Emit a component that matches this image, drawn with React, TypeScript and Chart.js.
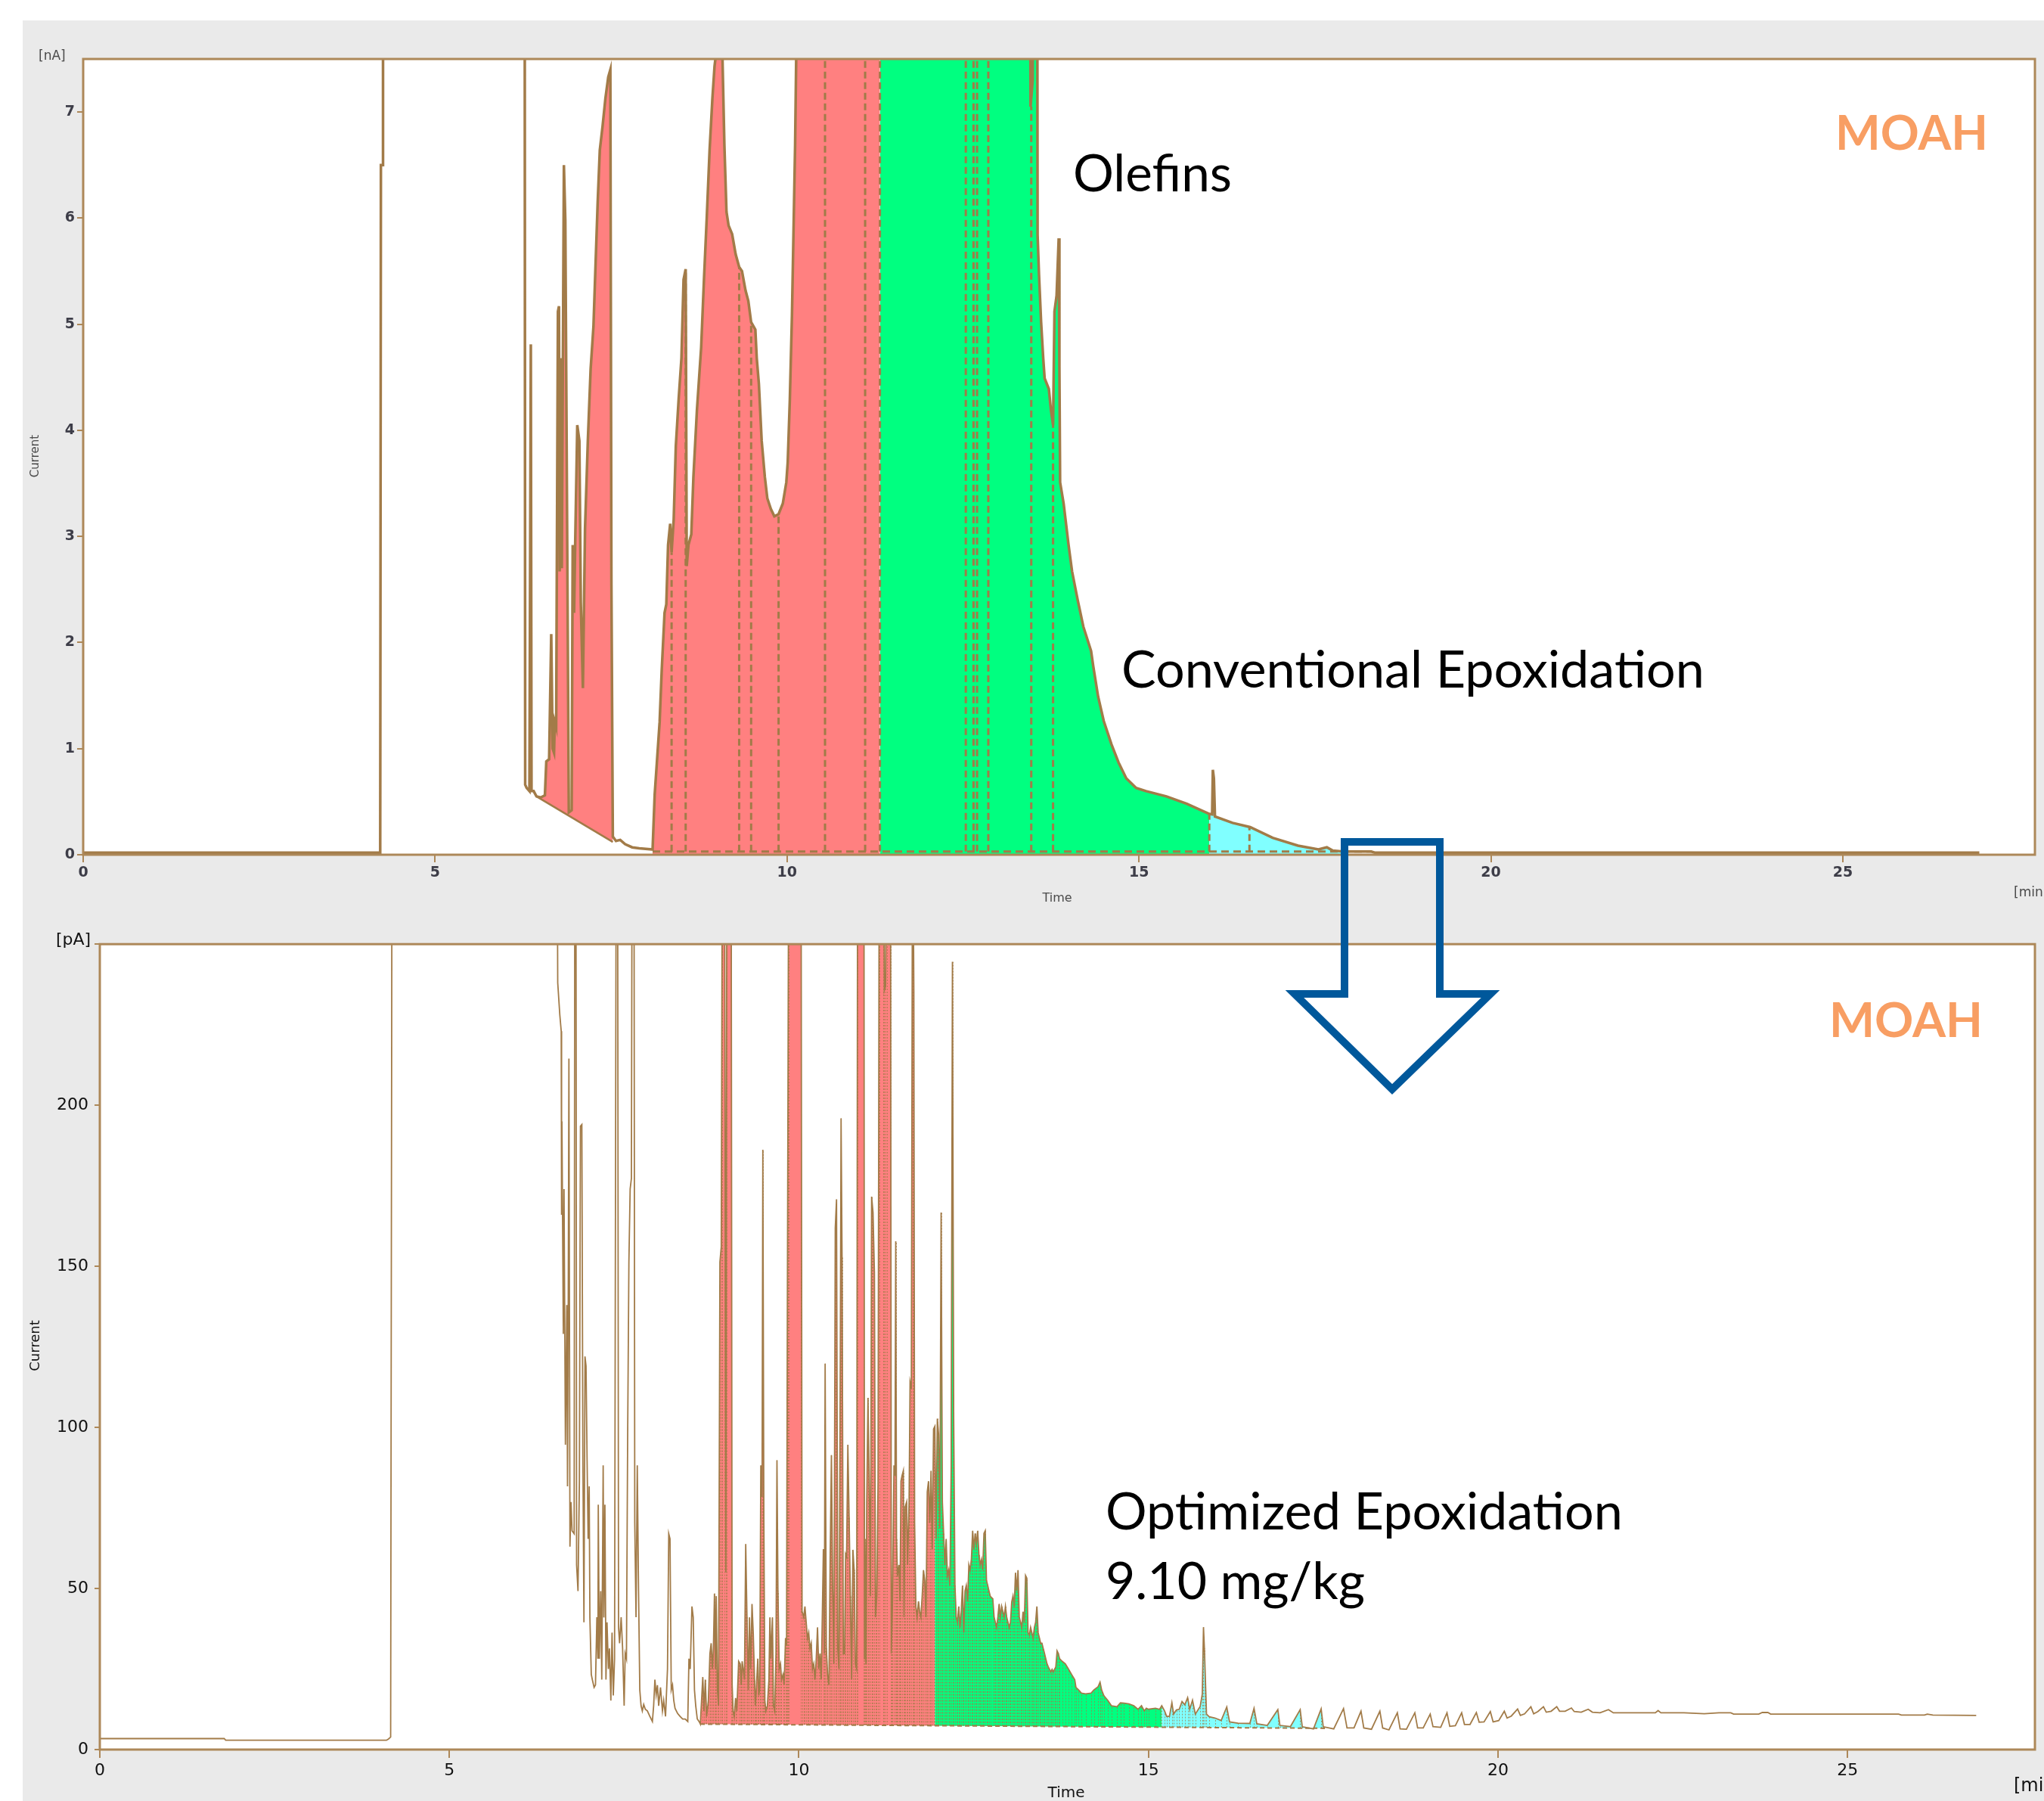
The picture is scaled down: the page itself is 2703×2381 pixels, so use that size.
import { useEffect, useRef } from "react";
import { Chart, registerables } from "chart.js";
Chart.register(...registerables);

// ---------- DATA ----------
// Top chromatogram: conventional epoxidation, [min] vs [nA]
const TOP_TRACE: [number, number][] = [
  [0, 0.02], [4.22, 0.02], [4.23, 6.5], [4.255, 6.5], [4.26, 12], [6.27, 12], [6.28, 0.66], [6.3, 0.63], [6.34, 0.6], [6.36, 4.81],
  [6.37, 0.6], [6.4, 0.6], [6.44, 0.55], [6.5, 0.54], [6.56, 0.56], [6.58, 0.88], [6.62, 0.9], [6.65, 2.08], [6.67, 1.0], [6.69, 0.96],
  [6.7, 1.25], [6.72, 1.2], [6.745, 5.12], [6.76, 5.17], [6.77, 2.67], [6.79, 4.68], [6.8, 2.7], [6.83, 6.5], [6.85, 5.98], [6.9, 0.4],
  [6.94, 0.42], [6.955, 2.92], [6.975, 2.28], [6.99, 2.92], [7.02, 4.05], [7.05, 3.9], [7.07, 2.38], [7.1, 1.57], [7.13, 3.07], [7.17, 3.9],
  [7.21, 4.58], [7.25, 4.98], [7.28, 5.57], [7.31, 6.15], [7.34, 6.64], [7.38, 6.87], [7.42, 7.13], [7.46, 7.33], [7.49, 7.4], [7.505, 2.55],
  [7.525, 0.17], [7.57, 0.13], [7.63, 0.14], [7.7, 0.1], [7.8, 0.07], [7.9, 0.06], [8.09, 0.05], [8.12, 0.57], [8.15, 0.86], [8.19, 1.25],
  [8.22, 1.74], [8.26, 2.28], [8.285, 2.36], [8.31, 2.92], [8.34, 3.12], [8.36, 2.85], [8.39, 3.16], [8.42, 3.85], [8.46, 4.29], [8.5, 4.68],
  [8.53, 5.42], [8.56, 5.52], [8.575, 2.72], [8.6, 2.92], [8.64, 3.02], [8.67, 3.56], [8.72, 4.19], [8.78, 4.78], [8.82, 5.42], [8.86, 6.01],
  [8.9, 6.64], [8.94, 7.13], [8.97, 7.43], [9.0, 7.6], [9.08, 7.6], [9.11, 6.69], [9.14, 6.06], [9.17, 5.93], [9.22, 5.85], [9.27, 5.66],
  [9.32, 5.54], [9.36, 5.5], [9.41, 5.32], [9.45, 5.22], [9.49, 5.02], [9.55, 4.95], [9.57, 4.68], [9.6, 4.44], [9.64, 3.9], [9.685, 3.56],
  [9.72, 3.36], [9.77, 3.26], [9.82, 3.19], [9.88, 3.21], [9.94, 3.31], [9.99, 3.51], [10.01, 3.7], [10.04, 4.29], [10.07, 5.08], [10.1, 6.15],
  [10.115, 6.69], [10.13, 7.49], [10.14, 12], [11.32, 12], [13.44, 12], [13.46, 7.05], [13.49, 7.3], [13.52, 12], [13.55, 12], [13.56, 5.84],
  [13.58, 5.47], [13.61, 5.02], [13.64, 4.68], [13.66, 4.49], [13.72, 4.39], [13.75, 4.19], [13.78, 4.05], [13.8, 5.12], [13.83, 5.27], [13.86, 5.81],
  [13.87, 4.6], [13.88, 3.51], [13.93, 3.31], [14.0, 2.92], [14.05, 2.67], [14.13, 2.4], [14.21, 2.15], [14.32, 1.92], [14.35, 1.78], [14.42, 1.49],
  [14.5, 1.26], [14.61, 1.04], [14.71, 0.87], [14.82, 0.72], [14.96, 0.63], [15.1, 0.6], [15.39, 0.55], [15.68, 0.48], [16.0, 0.385], [16.04, 0.38],
  [16.05, 0.8], [16.065, 0.72], [16.08, 0.36], [16.33, 0.3], [16.58, 0.26], [16.9, 0.16], [17.26, 0.086], [17.55, 0.05], [17.67, 0.07], [17.75, 0.04],
  [17.9, 0.03], [18.3, 0.03], [18.35, 0.02], [26.94, 0.02],
];
const TOP_SLOPED_BASELINE: [number, number][] = [[6.44, 0.55], [7.525, 0.12]];
const TOP_FLAT_BASELINE: [number, number][] = [[8.09, 0.03], [18.3, 0.03]];
const TOP_REGION_FROM = [6.44, 8.09, 11.32, 16.0];
const TOP_REGION_TO = [7.525, 11.32, 16.0, 17.9];
const TOP_REGION_COLORS = ["#ff8080", "#ff8080", "#00ff80", "#80ffff"];
const TOP_PEAK_BOUNDARIES = [8.36, 8.56, 9.32, 9.49, 9.88, 10.54, 11.11, 11.32, 12.54, 12.65, 12.7, 12.86, 13.47, 13.78, 16.0, 16.57];
const TOP_Y_MAX = 7.5;
const TOP_X_MAX = 27.73;

// Bottom chromatogram: optimized epoxidation, [min] vs [pA]
const BOTTOM_PRE: [number, number][] = [
  [0, 3.4], [1.78, 3.4], [1.8, 2.9], [4.1, 2.9], [4.13, 3.3], [4.16, 3.9], [4.18, 300], [6.54, 300], [6.55, 238], [6.58, 228],
  [6.6, 223], [6.605, 166], [6.61, 195], [6.63, 129], [6.64, 174], [6.66, 94.6], [6.68, 138], [6.69, 81.7], [6.7, 135], [6.71, 214.5],
  [6.725, 63], [6.74, 76.8], [6.755, 67.9], [6.785, 67], [6.795, 300], [6.81, 300], [6.82, 57.3], [6.84, 49.2], [6.86, 83.3], [6.875, 193.5],
  [6.895, 194], [6.91, 89.8], [6.925, 39.5], [6.94, 122], [6.955, 119], [6.97, 89.8], [6.985, 65.4], [7.0, 81.7], [7.01, 41.1], [7.03, 23.3],
  [7.045, 21.7], [7.07, 19.3], [7.09, 20.1], [7.11, 41.1], [7.125, 28.2], [7.13, 76], [7.145, 28.2], [7.165, 49.2], [7.18, 21.7], [7.2, 88.2],
  [7.21, 41], [7.225, 76], [7.24, 21.7], [7.255, 39.5], [7.275, 25], [7.29, 31.4], [7.31, 15.2], [7.327, 36.3], [7.345, 16.8], [7.363, 28.2],
  [7.388, 300], [7.406, 300], [7.42, 37.9], [7.435, 33], [7.457, 41.1], [7.478, 31.4], [7.5, 13.6], [7.515, 29.8], [7.533, 28.2], [7.55, 96.2],
  [7.568, 151.3], [7.586, 174], [7.604, 177.3], [7.615, 300], [7.64, 300], [7.652, 70.3], [7.67, 41.1], [7.688, 88.2], [7.706, 49.2], [7.724, 18.5],
  [7.742, 13.6], [7.76, 12], [7.78, 14], [7.803, 12.5], [7.832, 12], [7.868, 10.3], [7.904, 8.7], [7.922, 13.6], [7.94, 21.7], [7.958, 17],
  [7.976, 20], [7.994, 13.6], [8.02, 19.3], [8.048, 12], [8.066, 15.2], [8.092, 10.3], [8.12, 25], [8.138, 67], [8.156, 65.4], [8.174, 18.5],
  [8.192, 20], [8.21, 15.2], [8.228, 12.8], [8.265, 11.2], [8.3, 10.3], [8.337, 9.5], [8.373, 9.5], [8.41, 8.7], [8.427, 28.2], [8.445, 25],
  [8.47, 44.4], [8.488, 41.1], [8.506, 18.5], [8.524, 13.6], [8.546, 9.5], [8.572, 8.7],
];
const BOTTOM_RED: [number, number][] = [
  [8.59, 7.9], [8.625, 22.5], [8.643, 12], [8.661, 21.7], [8.68, 10.3], [8.705, 15.2], [8.727, 29.8], [8.745, 33], [8.763, 25], [8.777, 31.4],
  [8.792, 48.4], [8.806, 25], [8.817, 47.6], [8.835, 18.5], [8.85, 13.6], [8.87, 151.3], [8.889, 156], [8.906, 300], [8.935, 300], [8.955, 55],
  [8.97, 300], [9.03, 300], [9.045, 20], [9.058, 12], [9.076, 10.3], [9.094, 16], [9.112, 12], [9.138, 27.4], [9.16, 26.6], [9.174, 20],
  [9.188, 27.4], [9.203, 25], [9.221, 21.7], [9.239, 63.8], [9.257, 41], [9.275, 18.5], [9.293, 41], [9.31, 25], [9.329, 45.2], [9.347, 36],
  [9.365, 21.7], [9.376, 13.6], [9.39, 18.5], [9.412, 28.2], [9.426, 16.8], [9.44, 19.3], [9.455, 88.2], [9.473, 78.4], [9.484, 186.2], [9.498, 73.5],
  [9.513, 15.2], [9.527, 12], [9.549, 13.6], [9.571, 21.7], [9.585, 41], [9.6, 28.2], [9.621, 41], [9.636, 13.6], [9.654, 12], [9.672, 29.8],
  [9.686, 89.8], [9.7, 49.2], [9.718, 25], [9.737, 26.6], [9.751, 21.7], [9.773, 23.3], [9.788, 20], [9.809, 34.6], [9.823, 32.2], [9.835, 140],
  [9.845, 215], [9.855, 300], [10.03, 300], [10.045, 42.8], [10.068, 41.1], [10.086, 44.4], [10.104, 39.5], [10.122, 34.6], [10.14, 36.3], [10.158, 31.4],
  [10.176, 33], [10.194, 25], [10.212, 26.6], [10.23, 21.7], [10.248, 28.2], [10.266, 37.9], [10.284, 25], [10.302, 29.8], [10.32, 21.7], [10.35, 62.2],
  [10.363, 29.8], [10.375, 119.8], [10.392, 31.4], [10.41, 23.3], [10.43, 20], [10.447, 59], [10.465, 91.4], [10.483, 49.2], [10.501, 26.6], [10.52, 161.9],
  [10.538, 170.8], [10.556, 31.4], [10.574, 25], [10.592, 122.2], [10.603, 195.9], [10.617, 153], [10.635, 29.8], [10.653, 29.8], [10.668, 60.6], [10.682, 59.8],
  [10.7, 94.6], [10.718, 72], [10.736, 47.6], [10.754, 21.7], [10.772, 62], [10.79, 55.7], [10.808, 26.6], [10.826, 25], [10.84, 300], [10.93, 300],
  [10.938, 28.2], [10.945, 65.4], [10.96, 26.6], [10.97, 76.8], [10.988, 109.2], [11.006, 81.7], [11.024, 47.6], [11.04, 171.6], [11.06, 166.7], [11.08, 148],
  [11.096, 41.1], [11.114, 47.6], [11.132, 83.3], [11.15, 300], [11.21, 300], [11.222, 235.6], [11.24, 237], [11.255, 300], [11.31, 300], [11.322, 29.8],
  [11.337, 44.4], [11.36, 88.2], [11.374, 85], [11.385, 157.8], [11.396, 65.4], [11.41, 54], [11.432, 57.3], [11.446, 46], [11.46, 83.3], [11.475, 85],
  [11.493, 86.5], [11.504, 41.1], [11.518, 75.2], [11.54, 76.8], [11.554, 57.3], [11.576, 76.8], [11.59, 114], [11.608, 112], [11.626, 300], [11.644, 235.6],
  [11.655, 70.3], [11.673, 44.4], [11.691, 41.1], [11.71, 46], [11.727, 42.8], [11.745, 41.1], [11.763, 47.6], [11.782, 55.7], [11.8, 52.5], [11.818, 41.1],
  [11.836, 80], [11.854, 83.3], [11.872, 70.3], [11.89, 86.5], [11.908, 62.2], [11.926, 99.5],
];
const BOTTOM_GREEN: [number, number][] = [
  [11.944, 100.3], [11.962, 65.4], [11.98, 102.7], [11.998, 97.9], [12.016, 68.7], [12.034, 166.7], [12.052, 76.8], [12.07, 67.1], [12.088, 57.3], [12.106, 65.4],
  [12.124, 54], [12.142, 55.7], [12.16, 50.9], [12.178, 88.2], [12.196, 244.5], [12.214, 102.7], [12.232, 50.9], [12.25, 41.1], [12.268, 39.5], [12.286, 44.4],
  [12.304, 37.9], [12.322, 42.8], [12.34, 50.9], [12.358, 36.3], [12.376, 49.2], [12.394, 50.9], [12.413, 46], [12.431, 57.3], [12.449, 55.7], [12.467, 59],
  [12.485, 67.9], [12.503, 62.2], [12.521, 67.1], [12.539, 63.8], [12.557, 67.9], [12.575, 60.6], [12.593, 57.3], [12.611, 59], [12.629, 55.7], [12.647, 67.1],
  [12.665, 67.9], [12.683, 52.5], [12.701, 50.9], [12.719, 49.2], [12.737, 47.6], [12.773, 46.8], [12.792, 41.1], [12.81, 39.5], [12.828, 37.9], [12.846, 41.1],
  [12.864, 45.2], [12.882, 41.1], [12.9, 44.4], [12.918, 42.8], [12.936, 41.1], [12.954, 44.4], [12.972, 41.1], [12.99, 39.5], [13.008, 37.9], [13.026, 39.5],
  [13.044, 45.8], [13.062, 47.6], [13.08, 44.4], [13.098, 54.9], [13.116, 49.2], [13.134, 55.7], [13.152, 41.1], [13.17, 39.5], [13.188, 37.9], [13.206, 42.8],
  [13.224, 39.5], [13.242, 54], [13.26, 53.2], [13.278, 36.3], [13.296, 35.5], [13.314, 37.9], [13.332, 36.3], [13.35, 34.6], [13.368, 37.9], [13.386, 39.5],
  [13.404, 44.4], [13.422, 36.3], [13.44, 34.6], [13.458, 33], [13.476, 33], [13.494, 31.4], [13.513, 29.8], [13.531, 28.2], [13.549, 26.6], [13.567, 25.7],
  [13.585, 24.9], [13.603, 24.1], [13.621, 24.9], [13.639, 24.1], [13.657, 24.9], [13.675, 25.7], [13.693, 30.6], [13.711, 29.8], [13.729, 28.2], [13.765, 27.4],
  [13.81, 26.6], [13.855, 25], [13.9, 23.3], [13.945, 21.7], [13.963, 19.3], [14.0, 18.5], [14.04, 17.5], [14.1, 17.3], [14.18, 17.5], [14.22, 18.5],
  [14.28, 19.5], [14.307, 20.9], [14.33, 18.5], [14.36, 16.8], [14.42, 15.2], [14.47, 13.6], [14.55, 13.3], [14.6, 14.5], [14.65, 14.4], [14.72, 14.2],
  [14.79, 13.6], [14.85, 12.5], [14.9, 13.6], [14.94, 12], [14.97, 12.8], [15.0, 12.5], [15.1, 12.8], [15.16, 12.5],
];
const BOTTOM_CYAN: [number, number][] = [
  [15.19, 13.6], [15.23, 12], [15.26, 10.3], [15.3, 10.3], [15.335, 14.5], [15.36, 11], [15.4, 12.3], [15.44, 12.5], [15.48, 14.9], [15.52, 13.9],
  [15.56, 16.1], [15.59, 12.5], [15.63, 15.3], [15.67, 11], [15.74, 13.4], [15.77, 17.2], [15.787, 38], [15.8, 31.4], [15.83, 11], [15.87, 10.2],
  [15.95, 9.8], [16.04, 9.0], [16.12, 13.2], [16.16, 8.6], [16.28, 8.2], [16.45, 8.1], [16.51, 12.8], [16.55, 8], [16.7, 7.5], [16.85, 12.4],
  [16.88, 7.5], [17.03, 7.1], [17.17, 12.4], [17.2, 7.1], [17.36, 6.4], [17.47, 12.6],
];
const BOTTOM_TAIL: [number, number][] = [
  [17.5, 7.1], [17.65, 6.4], [17.79, 12.7], [17.84, 6.7], [17.94, 6.7], [18.04, 11.9], [18.08, 6.7], [18.19, 6.3], [18.31, 11.9], [18.35, 6.7],
  [18.44, 6.1], [18.56, 11.4], [18.6, 6.4], [18.69, 6.3], [18.81, 11.4], [18.85, 6.7], [18.93, 6.7], [19.03, 11], [19.07, 7.1], [19.18, 6.9],
  [19.27, 11.4], [19.31, 7.2], [19.39, 7.4], [19.48, 11.4], [19.52, 7.8], [19.6, 7.8], [19.69, 11.5], [19.73, 8.5], [19.8, 8.6], [19.89, 11.8],
  [19.93, 8.6], [20.01, 9.0], [20.09, 11.9], [20.13, 9.8], [20.19, 10.4], [20.28, 12.6], [20.32, 10.6], [20.38, 11.1], [20.47, 13.3], [20.51, 11.1],
  [20.57, 11.8], [20.65, 13.3], [20.69, 11.6], [20.76, 11.9], [20.84, 13.3], [20.88, 11.9], [20.96, 11.9], [21.05, 12.9], [21.09, 11.8], [21.19, 11.6],
  [21.29, 12.5], [21.35, 11.6], [21.46, 11.4], [21.58, 12.4], [21.65, 11.4], [21.83, 11.4], [22.0, 11.4], [22.25, 11.4], [22.29, 12.1], [22.33, 11.4],
  [22.66, 11.4], [22.95, 11.1], [23.16, 11.4], [23.33, 11.4], [23.37, 11], [23.73, 11], [23.78, 11.5], [23.86, 11.5], [23.9, 11], [24.7, 11],
  [25.73, 11], [25.77, 10.7], [25.93, 10.7], [26.1, 10.7], [26.14, 11], [26.22, 10.7], [26.84, 10.6],
];
const BOTTOM_BASELINE: [number, number][] = [[8.59, 7.9], [17.53, 6.6]];
const BOTTOM_REGION_FROM = [8.59, 11.944, 15.19];
const BOTTOM_REGION_TO = [11.944, 15.19, 17.5];
const BOTTOM_REGION_COLORS = ["#ff8080", "#00ff80", "#80ffff"];
const BOTTOM_Y_MAX = 250;
const BOTTOM_X_MAX = 27.68;

const X_TICK_STEP = 5;

// ---------- STYLE ----------
const TRACE = "#a27b48";
const FRAME = "#ad8859";
const MOAH = "#f89e63";
const BG = "#eaeaea";

type Pt = { x: number; y: number };
const toPts = (a: [number, number][]): Pt[] => a.map(([x, y]) => ({ x, y }));
const slice = (a: [number, number][], from: number, to: number): Pt[] =>
  a.filter(([t]) => t >= from - 1e-9 && t <= to + 1e-9).map(([x, y]) => ({ x, y }));
const nearest = (a: [number, number][], t: number) => {
  let best = a[0];
  for (const p of a) if (Math.abs(p[0] - t) < Math.abs(best[0] - t)) best = p;
  return best[1];
};
const lineAt = (b: [number, number][], t: number) => {
  const [[x0, y0], [x1, y1]] = b;
  return y0 + ((t - x0) / (x1 - x0)) * (y1 - y0);
};

type Label = {
  text: string; x: number; y: number; size: number; family: string; weight?: string; color: string;
  align?: CanvasTextAlign; baseline?: CanvasTextBaseline; rotate?: boolean; fit?: number;
};
function drawLabels(ctx: CanvasRenderingContext2D, labels: Label[]) {
  for (const l of labels) {
    ctx.save();
    const w = l.weight || "normal";
    let size = l.size;
    if (l.fit) {
      ctx.font = `${w} 100px ${l.family}`;
      size = (100 * l.fit) / ctx.measureText(l.text).width;
    }
    ctx.font = `${w} ${size}px ${l.family}`;
    ctx.fillStyle = l.color;
    ctx.textAlign = l.align || "left";
    ctx.textBaseline = l.baseline || "alphabetic";
    ctx.translate(l.x, l.y);
    if (l.rotate) ctx.rotate(-Math.PI / 2);
    ctx.fillText(l.text, 0, 0);
    ctx.restore();
  }
}

function framePlugin(lw: number) {
  return {
    id: "frame",
    beforeDraw(chart: any) {
      const { ctx, chartArea: a } = chart;
      ctx.save();
      ctx.fillStyle = "#ffffff";
      ctx.fillRect(a.left, a.top, a.right - a.left, a.bottom - a.top);
      ctx.restore();
    },
    afterDraw(chart: any) {
      const { ctx, chartArea: a } = chart;
      ctx.save();
      ctx.strokeStyle = FRAME;
      ctx.lineWidth = lw;
      ctx.strokeRect(a.left, a.top, a.right - a.left, a.bottom - a.top);
      ctx.restore();
    },
  };
}

const DEJAVU = '"DejaVu Sans"';
const CAL = "Lato";

function topConfig(): any {
  const regions = TOP_REGION_FROM.map((f, i) => ({
    data: slice(TOP_TRACE, f, TOP_REGION_TO[i]),
    borderWidth: 0,
    pointRadius: 0,
    backgroundColor: TOP_REGION_COLORS[i],
    fill: i === 0 ? 1 : { value: 0 },
  }));
  const labels: Label[] = [
    { text: "[nA]", x: 21, y: 48, size: 17, family: DEJAVU, color: "#4a4a4a", baseline: "middle" },
    { text: "Current", x: 17, y: 576, size: 15, family: DEJAVU, color: "#4a4a4a", align: "center", baseline: "middle", rotate: true },
    { text: "Time", x: 1368, y: 1161, size: 16, family: DEJAVU, color: "#4a4a4a", align: "center", baseline: "middle" },
    { text: "[min]", x: 2633, y: 1154, size: 17, family: DEJAVU, color: "#4a4a4a", baseline: "middle" },
    { text: "MOAH", x: 2397, y: 171, size: 80, family: CAL, weight: "bold", color: MOAH, fit: 202 },
    { text: "Olefins", x: 1389, y: 226, size: 70, family: CAL, color: "#000", fit: 210 },
    { text: "Conventional Epoxidation", x: 1453, y: 882, size: 70, family: CAL, color: "#000", fit: 771 },
  ];
  return {
    type: "line",
    data: {
      datasets: [
        { data: toPts(TOP_TRACE), borderColor: TRACE, borderWidth: 3.5, pointRadius: 0, fill: false },
        { data: toPts(TOP_SLOPED_BASELINE), borderColor: TRACE, borderWidth: 2.5, pointRadius: 0, fill: false },
        ...regions,
      ],
    },
    options: {
      animation: false,
      responsive: false,
      devicePixelRatio: 1,
      layout: { padding: { left: 0, right: 12, top: 51, bottom: 0 } },
      plugins: { legend: { display: false }, tooltip: { enabled: false } },
      elements: { line: { tension: 0, borderJoinStyle: "miter" } },
      scales: {
        x: {
          type: "linear", min: 0, max: TOP_X_MAX,
          afterFit: (s: any) => { s.height = 97; },
          ticks: { stepSize: X_TICK_STEP, includeBounds: false, autoSkip: false, maxRotation: 0, padding: 3, color: "#3d3d48", font: { family: "DejaVu Sans", size: 19, weight: "bold" } },
          grid: { drawOnChartArea: false, drawTicks: true, tickLength: 10, color: FRAME, lineWidth: 2 },
          border: { display: false },
        },
        y: {
          type: "linear", min: 0, max: TOP_Y_MAX,
          afterFit: (s: any) => { s.width = 80; },
          ticks: { stepSize: 1, includeBounds: false, padding: 3, color: "#3d3d48", font: { family: "DejaVu Sans", size: 19, weight: "bold" } },
          grid: { drawOnChartArea: false, drawTicks: true, tickLength: 8, color: FRAME, lineWidth: 2 },
          border: { display: false },
        },
      },
    },
    plugins: [
      framePlugin(3),
      {
        id: "peaks",
        beforeDatasetDraw(chart: any, args: any) {
          if (args.index !== 0) return;
          const { ctx, chartArea: a, scales } = chart;
          ctx.save();
          ctx.beginPath();
          ctx.rect(a.left, a.top, a.right - a.left, a.bottom - a.top);
          ctx.clip();
          ctx.strokeStyle = TRACE;
          ctx.lineWidth = 3;
          ctx.setLineDash([9, 5]);
          for (const t of TOP_PEAK_BOUNDARIES) {
            const x = scales.x.getPixelForValue(t);
            const v = Math.min(nearest(TOP_TRACE, t), TOP_Y_MAX + 0.2);
            ctx.beginPath();
            ctx.moveTo(x, scales.y.getPixelForValue(0.03));
            ctx.lineTo(x, scales.y.getPixelForValue(v));
            ctx.stroke();
          }
          ctx.setLineDash([10, 6]);
          ctx.beginPath();
          ctx.moveTo(scales.x.getPixelForValue(TOP_FLAT_BASELINE[0][0]), scales.y.getPixelForValue(TOP_FLAT_BASELINE[0][1]));
          ctx.lineTo(scales.x.getPixelForValue(TOP_FLAT_BASELINE[1][0]), scales.y.getPixelForValue(TOP_FLAT_BASELINE[1][1]));
          ctx.stroke();
          ctx.restore();
        },
      },
      { id: "labels", afterDraw(chart: any) { drawLabels(chart.ctx, labels); } },
    ],
  };
}

function bottomConfig(): any {
  const trace = [...BOTTOM_PRE, ...BOTTOM_RED, ...BOTTOM_GREEN, ...BOTTOM_CYAN, ...BOTTOM_TAIL];
  const regions = BOTTOM_REGION_FROM.map((f, i) => ({
    data: slice(trace, f, BOTTOM_REGION_TO[i]),
    borderWidth: 0,
    pointRadius: 0,
    backgroundColor: BOTTOM_REGION_COLORS[i],
    fill: 1,
  }));
  const labels: Label[] = [
    { text: "[pA]", x: 44, y: 16, size: 22, family: DEJAVU, color: "#111", baseline: "middle" },
    { text: "Current", x: 17, y: 552, size: 18, family: DEJAVU, color: "#111", align: "center", baseline: "middle", rotate: true },
    { text: "Time", x: 1380, y: 1144, size: 20, family: DEJAVU, color: "#111", align: "center", baseline: "middle" },
    { text: "[min]", x: 2633, y: 1135, size: 24, family: DEJAVU, color: "#111", baseline: "middle" },
    { text: "MOAH", x: 2389, y: 144, size: 80, family: CAL, weight: "bold", color: MOAH, fit: 203 },
    { text: "Optimized Epoxidation", x: 1432, y: 795, size: 70, family: CAL, color: "#000", fit: 684 },
    { text: "9.10 mg/kg", x: 1432, y: 887, size: 70, family: CAL, color: "#000", fit: 343 },
  ];
  const hatchFrom = BOTTOM_REGION_FROM[0];
  const hatchTo = BOTTOM_REGION_TO[BOTTOM_REGION_TO.length - 1];
  return {
    type: "line",
    data: {
      datasets: [
        { data: toPts(trace), borderColor: TRACE, borderWidth: 1.8, pointRadius: 0, fill: false },
        { data: toPts(BOTTOM_BASELINE), borderColor: TRACE, borderWidth: 2, borderDash: [6, 4], pointRadius: 0, fill: false },
        ...regions,
      ],
    },
    options: {
      animation: false,
      responsive: false,
      devicePixelRatio: 1,
      layout: { padding: { left: 0, right: 12, top: 20, bottom: 0 } },
      plugins: { legend: { display: false }, tooltip: { enabled: false } },
      elements: { line: { tension: 0 } },
      scales: {
        x: {
          type: "linear", min: 0, max: BOTTOM_X_MAX,
          afterFit: (s: any) => { s.height = 68; },
          ticks: { stepSize: X_TICK_STEP, includeBounds: false, autoSkip: false, maxRotation: 0, padding: 4, color: "#111", font: { family: "DejaVu Sans", size: 22 } },
          grid: { drawOnChartArea: false, drawTicks: true, tickLength: 11, color: FRAME, lineWidth: 2 },
          border: { display: false },
        },
        y: {
          type: "linear", min: 0, max: BOTTOM_Y_MAX,
          afterFit: (s: any) => { s.width = 102; },
          ticks: {
            stepSize: 50, padding: 8, color: "#111", font: { family: "DejaVu Sans", size: 22 },
            callback: (v: any) => (v >= BOTTOM_Y_MAX ? "" : String(v)),
          },
          grid: { drawOnChartArea: false, drawTicks: true, tickLength: 7, color: FRAME, lineWidth: 2 },
          border: { display: false },
        },
      },
    },
    plugins: [
      framePlugin(3),
      {
        id: "hatch",
        beforeDatasetDraw(chart: any, args: any) {
          if (args.index !== 0) return;
          const { ctx, chartArea: a, scales } = chart;
          ctx.save();
          ctx.beginPath();
          ctx.rect(a.left, a.top, a.right - a.left, a.bottom - a.top);
          ctx.clip();
          ctx.strokeStyle = "rgba(162,123,72,0.75)";
          ctx.lineWidth = 1;
          ctx.setLineDash([2, 2]);
          for (const [t, v] of trace) {
            if (t < hatchFrom || t > hatchTo) continue;
            const x = Math.round(scales.x.getPixelForValue(t)) + 0.5;
            ctx.beginPath();
            ctx.moveTo(x, scales.y.getPixelForValue(lineAt(BOTTOM_BASELINE, t)));
            ctx.lineTo(x, scales.y.getPixelForValue(Math.min(v, BOTTOM_Y_MAX + 5)));
            ctx.stroke();
          }
          ctx.restore();
        },
      },
      { id: "labels", afterDraw(chart: any) { drawLabels(chart.ctx, labels); } },
    ],
  };
}

export default function App() {
  const topRef = useRef<HTMLCanvasElement>(null);
  const botRef = useRef<HTMLCanvasElement>(null);
  useEffect(() => {
    const c1 = new Chart(topRef.current as HTMLCanvasElement, topConfig());
    const c2 = new Chart(botRef.current as HTMLCanvasElement, bottomConfig());
    return () => {
      c1.destroy();
      c2.destroy();
    };
  }, []);
  return (
    <div style={{ position: "absolute", left: 0, top: 0, width: 2703, height: 2381, background: "#ffffff", overflow: "hidden" }}>
      <div style={{ position: "absolute", left: 30, top: 27, width: 2673, height: 2354, background: BG }} />
      <canvas ref={topRef} width={2673} height={1200} style={{ position: "absolute", left: 30, top: 27, width: 2673, height: 1200 }} />
      <canvas ref={botRef} width={2673} height={1154} style={{ position: "absolute", left: 30, top: 1227, width: 2673, height: 1154 }} />
      <svg width={2703} height={2381} style={{ position: "absolute", left: 0, top: 0, pointerEvents: "none" }}>
        <polygon
          points="1778,1113 1904,1113 1904,1314 1971,1314 1841,1440 1712,1314 1778,1314"
          fill="none"
          stroke="#00589b"
          strokeWidth={10}
          strokeLinejoin="miter"
        />
      </svg>
    </div>
  );
}
